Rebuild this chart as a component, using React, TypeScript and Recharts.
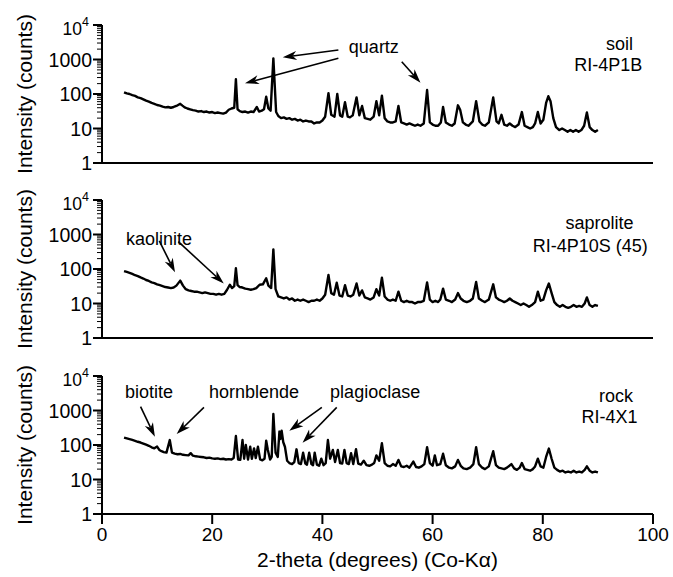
import React from "react";
import {
  LineChart,
  Line,
  XAxis,
  YAxis,
  ReferenceLine,
  ReferenceDot,
  Label,
} from "recharts";

type Pt = [number, number];

// 2-theta (deg), counts
const soil: Pt[] = [
  [4, 112], [4.5, 104], [5, 100], [5.5, 93], [6, 88], [6.5, 80], [7, 76], [7.5, 70],
  [8, 64], [8.5, 60], [9, 55], [9.5, 52], [10, 48], [10.5, 46], [11, 43], [11.5, 41],
  [12, 42], [12.5, 40], [13, 42], [13.5, 45], [14.2, 52], [14.6, 46], [15, 41], [15.5, 38],
  [16, 36], [16.5, 34], [17, 33], [17.5, 31], [18, 32], [18.5, 30], [19, 31], [19.5, 29],
  [20, 30], [20.5, 28], [21, 29], [21.5, 28], [22, 27], [22.5, 29], [23, 35], [23.5, 38],
  [24, 40], [24.3, 267], [24.6, 36], [25, 32], [25.5, 30], [26, 31], [26.5, 29], [27, 31],
  [27.5, 30], [28.1, 42], [28.5, 31], [29, 33], [29.4, 36], [29.8, 83], [30.2, 38], [30.6, 33],
  [31.1, 1080], [31.6, 30], [32, 23], [32.5, 20], [33, 21], [33.5, 19], [34, 20], [34.5, 18],
  [35, 19], [35.5, 17], [36, 18], [36.5, 16], [37, 17], [37.5, 16], [38, 16], [38.5, 14],
  [39, 15], [39.5, 15], [40, 17], [40.5, 22], [41.1, 105], [41.6, 25], [42.2, 22], [42.7, 100],
  [43.2, 24], [43.6, 22], [44.1, 58], [44.6, 22], [45, 21], [45.5, 24], [46.2, 80], [46.7, 24],
  [47.2, 45], [47.7, 20], [48.2, 19], [48.7, 18], [49.3, 22], [49.8, 62], [50.3, 24], [50.8, 89],
  [51.3, 20], [51.8, 16], [52.3, 15], [52.8, 15], [53.3, 16], [53.8, 45], [54.3, 15], [54.8, 14],
  [55.3, 13], [55.8, 14], [56.3, 13], [56.8, 12], [57.3, 13], [57.8, 12], [58.4, 14], [59, 130],
  [59.5, 15], [60, 13], [60.5, 12], [61, 12], [61.5, 15], [61.9, 42], [62.4, 15], [63, 13],
  [63.5, 12], [64, 14], [64.6, 47], [65, 35], [65.5, 15], [66, 13], [66.5, 12], [67.3, 16],
  [67.9, 62], [68.5, 16], [69, 13], [69.5, 12], [70.2, 15], [71, 80], [71.6, 16], [72, 14],
  [72.5, 25], [73, 13], [73.5, 12], [74, 14], [74.5, 12], [75, 11], [75.6, 13], [76.2, 30],
  [76.7, 12], [77.2, 11], [77.7, 10], [78.2, 11], [78.6, 14], [79.1, 30], [79.6, 14], [80.1, 18],
  [80.6, 55], [81, 86], [81.4, 62], [81.9, 20], [82.4, 11], [83, 9], [83.5, 10], [84, 9],
  [84.5, 8], [85, 9], [85.5, 8], [86, 9], [86.5, 8], [87, 9], [87.5, 12], [88, 29],
  [88.5, 11], [89, 9], [89.5, 8], [90, 9],
];

const saprolite: Pt[] = [
  [4, 87], [4.5, 82], [5, 77], [5.5, 72], [6, 66], [6.5, 62], [7, 57], [7.5, 53],
  [8, 48], [8.5, 45], [9, 41], [9.5, 39], [10, 36], [10.5, 34], [11, 32], [11.5, 30],
  [12, 29], [12.5, 28], [13, 29], [13.5, 33], [14.2, 46], [14.7, 33], [15.2, 26], [15.7, 24],
  [16.2, 23], [16.7, 22], [17.2, 22], [17.7, 21], [18.2, 20], [18.7, 21], [19.2, 20], [19.7, 19],
  [20.2, 19], [20.7, 18], [21.2, 19], [21.7, 18], [22.2, 19], [22.7, 25], [23.2, 35], [23.6, 28],
  [24, 32], [24.3, 105], [24.6, 34], [25, 30], [25.5, 29], [26, 27], [26.5, 26], [27, 25],
  [27.5, 26], [28, 28], [28.6, 35], [29.2, 36], [29.8, 54], [30.2, 33], [30.7, 28], [31.1, 370],
  [31.5, 26], [32, 16], [32.5, 15], [33, 14], [33.5, 15], [34, 13], [34.5, 14], [35, 12],
  [35.5, 13], [36, 12], [36.5, 13], [37, 12], [37.5, 11], [38, 12], [38.5, 12], [39, 13],
  [39.5, 12], [40, 14], [40.5, 18], [41.1, 67], [41.6, 20], [42.1, 18], [42.6, 40], [43.1, 17],
  [43.6, 16], [44.1, 34], [44.6, 17], [45.1, 16], [45.6, 18], [46.2, 38], [46.7, 17], [47.2, 24],
  [47.7, 15], [48.2, 14], [48.7, 13], [49.3, 15], [49.8, 26], [50.3, 17], [50.8, 56], [51.3, 16],
  [51.8, 13], [52.3, 12], [52.8, 13], [53.3, 12], [53.8, 22], [54.3, 12], [54.8, 11], [55.3, 12],
  [55.8, 11], [56.3, 11], [56.8, 10], [57.3, 11], [57.8, 11], [58.4, 12], [59, 41], [59.5, 13],
  [60, 11], [60.5, 12], [61, 11], [61.4, 13], [61.9, 27], [62.4, 13], [63, 12], [63.5, 11],
  [64.1, 13], [64.6, 20], [65.1, 14], [65.6, 12], [66.2, 11], [66.8, 12], [67.3, 14], [67.9, 42],
  [68.4, 14], [69, 12], [69.5, 11], [70.2, 13], [71, 36], [71.5, 15], [72, 13], [72.5, 12],
  [73, 11], [73.5, 12], [74, 14], [74.5, 12], [75, 11], [75.5, 10], [76, 9], [76.5, 10],
  [77, 9], [77.5, 8], [78, 9], [78.6, 11], [79.1, 22], [79.6, 12], [80.1, 13], [80.6, 24],
  [81.1, 38], [81.6, 20], [82.1, 11], [82.6, 9], [83.1, 8], [83.6, 9], [84.1, 8], [84.6, 7.5],
  [85.1, 8], [85.6, 9], [86.1, 8], [86.6, 8.5], [87.1, 8], [87.6, 10], [88, 15], [88.5, 9],
  [89, 8], [89.5, 9], [90, 8.5],
];

const rock: Pt[] = [
  [4, 163], [4.5, 155], [5, 148], [5.5, 140], [6, 132], [6.5, 124], [7, 118], [7.5, 110],
  [8, 102], [8.5, 95], [9, 86], [9.5, 80], [10, 90], [10.4, 72], [10.8, 66], [11.2, 62],
  [11.7, 60], [12.3, 139], [12.7, 60], [13.2, 56], [13.7, 54], [14.2, 55], [14.7, 52], [15.2, 51],
  [15.7, 50], [16.1, 58], [16.5, 49], [17, 47], [17.5, 46], [18, 45], [18.5, 44], [19, 42],
  [19.5, 43], [20, 41], [20.5, 40], [21, 41], [21.5, 39], [22, 40], [22.5, 38], [23, 39],
  [23.5, 38], [23.9, 42], [24.3, 182], [24.7, 38], [25.1, 37], [25.5, 139], [25.8, 40], [26.1, 100],
  [26.5, 38], [26.9, 89], [27.2, 40], [27.6, 80], [27.9, 42], [28.3, 89], [28.7, 38], [29.1, 36],
  [29.5, 40], [29.8, 133], [30.1, 72], [30.5, 38], [30.8, 45], [31.1, 790], [31.5, 60], [31.9, 45],
  [32.2, 245], [32.4, 150], [32.6, 260], [32.9, 120], [33.2, 89], [33.6, 35], [34, 30], [34.5, 28],
  [34.9, 32], [35.3, 75], [35.7, 30], [36.1, 28], [36.5, 60], [36.9, 29], [37.2, 27], [37.6, 60],
  [38, 28], [38.3, 26], [38.6, 60], [39, 27], [39.4, 25], [39.8, 40], [40.2, 26], [40.6, 30],
  [41, 139], [41.4, 40], [41.9, 72], [42.3, 32], [42.8, 72], [43.2, 30], [43.6, 29], [44, 72],
  [44.4, 30], [44.8, 28], [45.2, 58], [45.6, 28], [46.1, 76], [46.5, 29], [47, 27], [47.5, 35],
  [48, 26], [48.5, 25], [49, 27], [49.4, 30], [49.8, 50], [50.3, 35], [50.8, 112], [51.3, 30],
  [51.8, 25], [52.3, 24], [52.8, 28], [53.3, 25], [53.8, 37], [54.3, 24], [54.8, 23], [55.3, 25],
  [55.8, 22], [56.5, 33], [57, 23], [57.5, 22], [58, 24], [58.5, 28], [59, 86], [59.5, 30],
  [60, 25], [60.4, 50], [60.8, 26], [61.4, 28], [61.9, 56], [62.4, 26], [63, 22], [63.5, 21],
  [64.1, 24], [64.6, 37], [65.1, 25], [65.6, 21], [66.2, 20], [66.8, 22], [67.4, 28], [67.9, 86],
  [68.4, 28], [69, 22], [69.5, 20], [70.2, 24], [71, 66], [71.5, 26], [72, 22], [72.5, 21],
  [73, 20], [73.5, 22], [74.3, 28], [74.8, 21], [75.3, 19], [75.8, 22], [76.2, 30], [76.7, 20],
  [77.2, 19], [77.7, 18], [78.2, 20], [78.6, 24], [79.1, 40], [79.6, 24], [80.1, 22], [80.6, 45],
  [81.1, 79], [81.6, 40], [82.1, 22], [82.6, 19], [83.1, 17], [83.6, 18], [84.1, 16], [84.6, 17],
  [85.1, 16], [85.6, 18], [86.1, 16], [86.6, 17], [87.1, 16], [87.6, 19], [88, 24], [88.5, 18],
  [89, 16], [89.5, 17], [90, 16],
];

const thetaTicks = [0, 20, 40, 60, 80, 100];
const decades = [1, 10, 100, 1000, 10000];
const minorSteps = [1, 2, 3, 4, 5, 6, 7, 8, 9];
const countTicks = decades
  .slice(0, 4)
  .flatMap((d) => minorSteps.map((m) => m * d))
  .concat([10000]);

type Note = { t: number; c: number; text: string; anchor: "start" | "middle" };
type Arrow = { from: Pt; to: Pt };

const soilNotes: Note[] = [
  { t: 44.8, c: 1575, text: "quartz", anchor: "start" },
  { t: 93.9, c: 1885, text: "soil", anchor: "middle" },
  { t: 91.9, c: 464, text: "RI-4P1B", anchor: "middle" },
];
const soilArrows: Arrow[] = [
  { from: [42.9, 1885], to: [32.8, 1158] },
  { from: [42.9, 1084], to: [25.95, 204] },
  { from: [54.4, 865], to: [57.8, 213] },
];

const saproliteNotes: Note[] = [
  { t: 4.36, c: 497, text: "kaolinite", anchor: "start" },
  { t: 90.3, c: 1415, text: "saprolite", anchor: "middle" },
  { t: 88.6, c: 318, text: "RI-4P10S (45)", anchor: "middle" },
];
const saproliteArrows: Arrow[] = [
  { from: [10.4, 650], to: [13.25, 80] },
  { from: [13.85, 620], to: [22.1, 38] },
];

const rockNotes: Note[] = [
  { t: 4.17, c: 2300, text: "biotite", anchor: "start" },
  { t: 19.4, c: 2300, text: "hornblende", anchor: "start" },
  { t: 41.4, c: 2300, text: "plagioclase", anchor: "start" },
  { t: 93.3, c: 1800, text: "rock", anchor: "middle" },
  { t: 92.1, c: 426, text: "RI-4X1", anchor: "middle" },
];
const rockArrows: Arrow[] = [
  { from: [7.0, 1290], to: [9.6, 174] },
  { from: [18.5, 1235], to: [13.55, 209] },
  { from: [39.9, 1235], to: [34.0, 260] },
  { from: [42.6, 1235], to: [36.4, 117] },
];

const FONT = "'Liberation Sans', Arial, Helvetica, sans-serif";

const CountTick = (props: any) => {
  const { x, y, payload } = props;
  const v = payload.value;
  if (!decades.includes(v)) {
    return <line x1={x - 5} x2={x} y1={y} y2={y} stroke="#000" strokeWidth={1} />;
  }
  return (
    <g>
      <line x1={x - 9} x2={x} y1={y} y2={y} stroke="#000" strokeWidth={2} />
      {v === 10000 ? (
        <text x={x - 13} y={y + 10} textAnchor="end" fontSize={17.5} fontFamily={FONT} fill="#000">
          <tspan>10</tspan>
          <tspan dy={-9} fontSize={12.5}>4</tspan>
        </text>
      ) : (
        <text x={x - 10} y={y + 7} textAnchor="end" fontSize={19.5} fontFamily={FONT} fill="#000">
          {v}
        </text>
      )}
    </g>
  );
};

const YTitle = (props: any) => {
  const vb = props.viewBox;
  const cx = vb.x + 24;
  const cy = vb.y + vb.height / 2;
  return (
    <text
      x={cx}
      y={cy}
      transform={`rotate(-90 ${cx} ${cy})`}
      textAnchor="middle"
      dominantBaseline="central"
      fontSize={21}
      fontFamily={FONT}
      fill="#000"
    >
      Intensity (counts)
    </text>
  );
};

const XTitle = (props: any) => {
  const vb = props.viewBox;
  return (
    <text
      x={vb.x + vb.width / 2}
      y={vb.y + 53}
      textAnchor="middle"
      fontSize={21}
      fontFamily={FONT}
      fill="#000"
    >
      2-theta (degrees) (Co-Kα)
    </text>
  );
};

// barbed arrowhead like the original figure
const ArrowShape = (p: any) => {
  const { x1, y1, x2, y2 } = p;
  const dx = x2 - x1;
  const dy = y2 - y1;
  const len = Math.hypot(dx, dy) || 1;
  const ux = dx / len;
  const uy = dy / len;
  const hl = 14;
  const hw = 4.5;
  const bx = x2 - ux * hl;
  const by = y2 - uy * hl;
  const nx = x2 - ux * (hl - 4);
  const ny = y2 - uy * (hl - 4);
  return (
    <g>
      <line x1={x1} y1={y1} x2={nx} y2={ny} stroke="#000" strokeWidth={1.6} />
      <polygon
        points={`${x2},${y2} ${bx - uy * hw},${by + ux * hw} ${nx},${ny} ${bx + uy * hw},${by - ux * hw}`}
        fill="#000"
      />
    </g>
  );
};

type PanelProps = {
  points: Pt[];
  top: number;
  height: number;
  xHeight: number;
  labels: boolean;
  notes: Note[];
  arrows: Arrow[];
};

const Panel = ({ points, top, height, xHeight, labels, notes, arrows }: PanelProps) => {
  const data = points.map(([t, c]) => ({ t, c }));
  return (
    <div style={{ position: "absolute", left: 0, top }}>
      <LineChart
        width={673}
        height={height}
        data={data}
        margin={{ top: 25, right: 20, bottom: 0, left: 0 }}
      >
        <XAxis
          type="number"
          dataKey="t"
          domain={[0, 100]}
          ticks={thetaTicks}
          interval={0}
          allowDataOverflow
          height={xHeight}
          tickSize={10}
          tickMargin={4}
          axisLine={{ stroke: "#000", strokeWidth: 2 }}
          tickLine={{ stroke: "#000", strokeWidth: 2 }}
          tick={labels ? { fill: "#000", fontSize: 19, fontFamily: FONT } : false}
        >
          {labels && <Label content={XTitle} />}
        </XAxis>
        <YAxis
          type="number"
          scale="log"
          domain={[1, 10000]}
          ticks={countTicks}
          interval={0}
          allowDataOverflow
          width={102}
          tickSize={0}
          tickMargin={0}
          tickLine={false}
          axisLine={{ stroke: "#000", strokeWidth: 2 }}
          tick={<CountTick />}
        >
          <Label content={YTitle} />
        </YAxis>
        <Line
          type="linear"
          dataKey="c"
          stroke="#000"
          strokeWidth={2.4}
          strokeLinejoin="round"
          dot={false}
          activeDot={false}
          isAnimationActive={false}
        />
        {arrows.map((a, i) => (
          <ReferenceLine
            key={"a" + i}
            segment={[
              { x: a.from[0], y: a.from[1] },
              { x: a.to[0], y: a.to[1] },
            ]}
            shape={ArrowShape}
          />
        ))}
        {notes.map((n, i) => (
          <ReferenceDot
            key={"n" + i}
            x={n.t}
            y={n.c}
            r={1}
            shape={(p: any) => (
              <text
                x={p.cx}
                y={p.cy}
                textAnchor={n.anchor}
                fontSize={18}
                fontFamily={FONT}
                fill="#000"
              >
                {n.text}
              </text>
            )}
          />
        ))}
      </LineChart>
    </div>
  );
};

export default function App() {
  return (
    <div
      style={{
        position: "absolute",
        left: 0,
        top: 0,
        width: 673,
        height: 577,
        background: "#fff",
      }}
    >
      <Panel points={soil} top={0} height={175} xHeight={12} labels={false} notes={soilNotes} arrows={soilArrows} />
      <Panel points={saprolite} top={175} height={175} xHeight={12} labels={false} notes={saproliteNotes} arrows={saproliteArrows} />
      <Panel points={rock} top={351} height={226} xHeight={63} labels={true} notes={rockNotes} arrows={rockArrows} />
    </div>
  );
}
